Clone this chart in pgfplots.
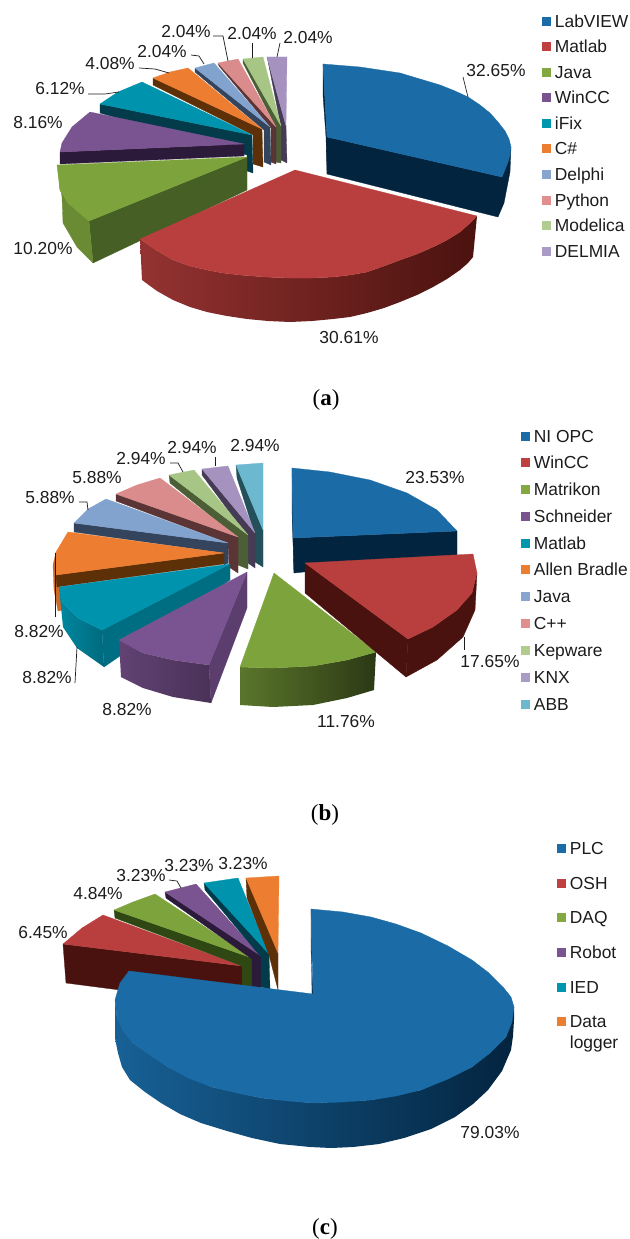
\documentclass[border=0pt]{standalone}
\usepackage{fontspec}
\setmainfont{Liberation Sans}
\newfontfamily\capfont{Liberation Serif}
\usepackage{pgfplots}
\pgfplotsset{compat=1.18}
\definecolor{tb}{HTML}{1A6BA6}\definecolor{sb}{HTML}{03243F}
\definecolor{tr}{HTML}{B93F3E}\definecolor{sr}{HTML}{4A120E}
\definecolor{tg}{HTML}{7DA33C}\definecolor{sg}{HTML}{455F24}
\definecolor{tp}{HTML}{7A5391}\definecolor{sp}{HTML}{2C1A3B}
\definecolor{tc}{HTML}{0093AE}\definecolor{sc}{HTML}{033B4A}
\definecolor{to}{HTML}{ED7D31}\definecolor{so}{HTML}{5E3008}
\definecolor{tlb}{HTML}{83A3CF}\definecolor{slb}{HTML}{33445C}
\definecolor{tpk}{HTML}{D98C8B}\definecolor{spk}{HTML}{5B3535}
\definecolor{tlg}{HTML}{A7C686}\definecolor{slg}{HTML}{4B5E36}
\definecolor{tli}{HTML}{A592BF}\definecolor{sli}{HTML}{463B55}
\definecolor{tab}{HTML}{6CB8CF}\definecolor{sab}{HTML}{23505A}
\definecolor{sdq}{HTML}{2F4712}
\definecolor{lr}{HTML}{C0403F}\definecolor{lg}{HTML}{82A83F}
\definecolor{lc}{HTML}{0097AE}\definecolor{llb}{HTML}{88A5CF}
\definecolor{lpk}{HTML}{E08F8E}\definecolor{llg}{HTML}{B0CC8F}
\definecolor{lli}{HTML}{A99BC5}
\definecolor{txt}{HTML}{1C1C1C}
\newcommand\poly[2]{\addplot[draw=#1,line width=0.3pt,fill=#1,line join=round] coordinates {#2} -- cycle;}
\newcommand\spoly[3]{\addplot[draw=none,left color=#1,right color=#2] coordinates {#3} -- cycle;}
\newcommand\smpoly[4]{\addplot[draw=none,left color=#1,middle color=#2,right color=#3] coordinates {#4} -- cycle;}
\newcommand\lead[1]{\addplot[draw=txt,line width=0.7pt] coordinates {#1};}
\newcommand\lab[3]{\node[anchor=base,yshift=-6.2pt,inner sep=0pt,text=txt,font=\fontsize{17.4}{20}\selectfont] at (axis cs:#1,#2) {#3};}
\newcommand\legi[4]{\addplot[only marks,mark=square*,mark size=4pt,color=#1] coordinates {(#2,#3)};
\node[anchor=base west,xshift=8.7pt,yshift=-6.2pt,inner sep=0pt,text=txt,font=\fontsize{17.4}{20}\selectfont] at (axis cs:#2,#3) {#4};}
\newcommand\capt[3]{\node[anchor=base,yshift=-7pt,inner sep=0pt,font=\fontsize{23}{26}\capfont] at (axis cs:#1,#2) {(\textbf{#3})};}
\begin{document}
\begin{tikzpicture}
\begin{axis}[scale only axis,width=629pt,height=1239pt,xmin=0,xmax=629,ymin=0,ymax=1239,y dir=reverse,hide axis,clip=false]
\addplot[draw=none] coordinates {(0,0)(629,1239)};
%% ---------- (a) ----------
\poly{sb}{(323,64)(323,95)(326,137)(327,174)(327,137)}
\poly{sb}{(327,137)(502,177)(508,162)(511,147)(510,172)(504,203)(498,217)(327,174)}
\poly{tb}{(323,64)(360,67)(400,73)(420,79)(440,85)(455,91)(468,97)(480,105)(490,113)(498,122)(505,131)(509,139)(511,147)(510,155)(508,162)(502,177)(327,137)}
\poly{sli}{(267,57)(268,61)(281,127)(281,160)(287,163)(286,126)}
\poly{tli}{(267,57)(287,57)(286,126)}
\poly{slg}{(243,59)(243,63)(276,127)(276,162)(281,163)(281,126)}
\poly{tlg}{(243,59)(263,57)(281,126)}
\poly{spk}{(218,63)(219,66)(271,128)(271,162)(276,164)(276,127)}
\poly{tpk}{(218,63)(238,59)(276,127)}
\poly{slb}{(195,68)(195,72)(264,130)(264,162)(271,165)(270,127)}
\poly{tlb}{(195,68)(214,63)(270,127)}
\poly{so}{(153,78)(262,129)(263,167)(253,164)(253,135)(153,85)}
\poly{to}{(153,78)(170,72)(188,68)(262,129)}
\poly{sc}{(100,104)(252,135)(253,173)(247,171)(247,155)(100,113)}
\poly{tc}{(100,104)(118,92)(142,82)(252,135)}
\poly{sp}{(60,152)(244,144)(244,156)(60,164)}
\poly{tp}{(60,152)(62,143)(72,127)(90,112)(244,144)}
\poly{sg}{(247,157)(89,221)(93,263)(247,190)}
\poly{tg!85!black}{(58,167)(60,190)(68,203)(89,221)(93,263)(77,247)(63,223)(62,197)}
\poly{tg}{(247,157)(57,165)(60,190)(68,203)(89,221)}
\spoly{tr!80!black}{sr}{(140,239)(156,250)(173,260)(190,266)(207,270)(223,273)(240,275)(265,277)(290,278)(312,278)(333,277)(350,275)(367,272)(384,266)(400,260)(417,254)(433,247)(447,240)(460,232)(469,224)(477,216)(473,257)(468,263)(460,270)(447,279)(433,287)(417,295)(400,302)(384,308)(367,313)(350,317)(333,319)(312,321)(290,322)(268,321)(247,319)(227,316)(207,312)(190,307)(173,300)(157,291)(142,280)}
\poly{tr}{(295,170)(477,216)(469,224)(460,232)(447,240)(433,247)(417,254)(400,260)(384,266)(367,272)(350,275)(333,277)(312,278)(290,278)(265,277)(240,275)(223,273)(207,270)(190,266)(173,260)(156,250)(140,239)}
\lab{496}{70}{32.65\%}\lab{349}{337}{30.61\%}\lab{43}{248}{10.20\%}\lab{38}{122}{8.16\%}
\lab{60}{88}{6.12\%}\lab{110}{63}{4.08\%}\lab{162}{51}{2.04\%}\lab{186}{31}{2.04\%}\lab{252}{33}{2.04\%}\lab{308}{37}{2.04\%}
\lead{(463,77)(468,97)}
\lead{(88,94)(105,94)(119,92)}
\lead{(139,68)(155,69)(169,73)}
\lead{(191,55)(199,56)(204,64)}
\lead{(213,36)(223,36)(228,61)}
\lead{(252,43)(252,58)}
\lead{(280,43)(277,57)}
\legi{tb}{546}{21}{LabVIEW}\legi{lr}{546}{46}{Matlab}\legi{lg}{546}{72}{Java}\legi{tp}{546}{97}{WinCC}
\legi{lc}{546}{123}{iFix}\legi{to}{546}{148}{C\#}\legi{llb}{546}{174}{Delphi}\legi{lpk}{546}{200}{Python}
\legi{llg}{546}{225}{Modelica}\legi{lli}{546}{251}{DELMIA}
\capt{326}{398}{a}
%% ---------- (b) ----------
\poly{sb}{(292,468)(292,510)(294,573)(293,538)}
\poly{sb}{(293,538)(457,531)(457,556)(294,573)}
\poly{tb}{(292,468)(330,472)(370,480)(407,493)(437,510)(457,531)(293,538)}
\poly{sab}{(236,465)(237,478)(255,535)(255,562)(263,567)(263,530)}
\poly{tab}{(236,465)(263,463)(263,530)}
\poly{sli}{(202,469)(202,475)(248,537)(248,563)(255,568)(255,533)}
\poly{tli}{(202,469)(228,466)(255,533)}
\poly{slg}{(169,475)(170,483)(238,538)(238,565)(248,569)(248,535)}
\poly{tlg}{(169,475)(194,470)(248,535)}
\poly{spk}{(116,494)(116,501)(228,543)(229,567)(238,573)(238,537)}
\poly{tpk}{(116,494)(137,485)(160,478)(238,537)}
\poly{slb}{(74,523)(228,543)(228,563)(224,565)(224,553)(74,532)}
\poly{tlb}{(74,523)(88,509)(106,499)(228,543)}
\poly{to!85!black}{(56,552)(53,565)(54,590)(58,611)(62,610)(60,587)}
\poly{so}{(56,575)(224,553)(224,564)(57,587)}
\poly{to}{(56,575)(56,552)(68,532)(224,553)}
\poly{tc!75!black}{(230,564)(102,630)(104,667)(230,580)}
\spoly{tc!92!black}{tc!72!black}{(59,587)(63,603)(78,618)(102,630)(104,667)(77,648)(63,627)}
\poly{tc}{(230,564)(102,630)(78,618)(63,603)(59,587)}
\poly{tp!75!black}{(247,572)(209,665)(211,703)(247,608)}
\spoly{tp!80!black}{tp!60!black}{(119,640)(143,653)(173,660)(209,665)(211,703)(173,697)(143,688)(121,677)}
\poly{tp}{(247,572)(209,665)(173,660)(143,653)(119,640)}
\spoly{tg!72!black}{tg!35!black}{(240,667)(273,668)(313,666)(347,660)(376,652)(374,690)(347,698)(313,705)(273,707)(240,705)}
\poly{tg}{(274,573)(376,652)(347,660)(313,666)(273,668)(240,667)}
\poly{sr}{(305,563)(408,639)(406,677)(305,593)}
\poly{sr}{(477,573)(472,593)(457,610)(433,627)(408,639)(406,677)(437,660)(463,637)(475,610)}
\poly{tr}{(305,563)(473,554)(477,573)(472,593)(457,610)(433,627)(408,639)}
\lab{435}{477}{23.53\%}\lab{490}{661}{17.65\%}\lab{346}{721}{11.76\%}\lab{39}{631}{8.82\%}\lab{47}{677}{8.82\%}\lab{127}{709}{8.82\%}
\lab{50}{497}{5.88\%}\lab{97}{477}{5.88\%}\lab{141}{458}{2.94\%}\lab{192}{447}{2.94\%}\lab{255}{445}{2.94\%}
\lead{(464,637)(464,650)}
\lead{(55,553)(55,617)}
\lead{(75,683)(77,647)}
\lead{(79,502)(87,502)(88,510)}
\lead{(170,463)(178,463)(183,472)}
\lead{(215,457)(215,466)}
\legi{tb}{525}{436}{NI OPC}\legi{lr}{525}{462}{WinCC}\legi{lg}{525}{489}{Matrikon}\legi{tp}{525}{516}{Schneider}
\legi{lc}{525}{543}{Matlab}\legi{to}{525}{569}{Allen Bradle}\legi{llb}{525}{596}{Java}\legi{lpk}{525}{623}{C++}
\legi{llg}{525}{650}{Kepware}\legi{lli}{525}{677}{KNX}\legi{tab}{525}{704}{ABB}
\capt{325}{813}{b}
%% ---------- (c) ----------
\poly{sr}{(63,944)(66,983)(120,990)(242,985)(242,966)}
\poly{tr}{(63,944)(82,928)(103,915)(242,966)}
\poly{sdq}{(114,910)(115,918)(242,966)(242,987)(252,987)(252,958)}
\poly{tg}{(114,910)(133,902)(155,894)(252,958)}
\poly{sp}{(165,892)(166,898)(252,959)(252,987)(261,988)(261,956)}
\poly{tp}{(165,892)(196,884)(261,956)}
\poly{sc}{(204,883)(205,890)(261,957)(261,987)(270,989)(269,954)}
\poly{tc}{(204,883)(238,878)(269,954)}
\poly{so}{(246,878)(247,898)(269,955)(278,990)(278,953)}
\poly{to}{(246,878)(279,876)(278,953)}
\poly{sb}{(311,909)(311,950)(313,994)(312,994)}
\smpoly{tb!90!black}{tb!60!black}{sb}{(115,1000)(117,1018)(133,1043)(168,1067)(212,1087)(262,1098)(313,1103)(371,1100)(421,1090)(472,1067)(506,1037)(514,1007)(514,1020)(513,1036)(511,1050)(502,1071)(488,1090)(473,1104)(455,1117)(431,1129)(404,1138)(379,1144)(353,1147)(331,1148)(310,1147)(280,1144)(252,1138)(227,1131)(201,1123)(180,1114)(161,1103)(145,1092)(130,1080)(122,1067)(118,1053)(115,1038)(115,1023)}
\poly{tb}{(311,909)(343,912)(371,917)(396,924)(421,933)(448,946)(472,960)(489,973)(503,987)(511,997)(514,1007)(512,1022)(506,1037)(490,1053)(472,1067)(448,1079)(421,1090)(396,1096)(371,1100)(343,1102)(313,1103)(288,1101)(262,1098)(237,1093)(212,1087)(188,1078)(168,1067)(151,1056)(133,1043)(123,1031)(117,1018)(115,1000)(120,983)(129,971)(313,994)}
\lab{43}{932}{6.45\%}\lab{98}{893}{4.84\%}\lab{141}{875}{3.23\%}\lab{189}{865}{3.23\%}\lab{243}{863}{3.23\%}\lab{490}{1132}{79.03\%}
\lead{(169,880)(177,881)(181,888)}
\legi{tb}{561}{848}{PLC}\legi{lr}{561}{883}{OSH}\legi{lg}{561}{917}{DAQ}\legi{tp}{561}{952}{Robot}\legi{lc}{561}{987}{IED}\legi{to}{561}{1021}{Data}
\node[anchor=base west,xshift=8.7pt,yshift=-6.2pt,inner sep=0pt,text=txt,font=\fontsize{17.4}{20}\selectfont] at (axis cs:561,1042) {logger};
\capt{325}{1227}{c}
\end{axis}
\end{tikzpicture}
\end{document}
